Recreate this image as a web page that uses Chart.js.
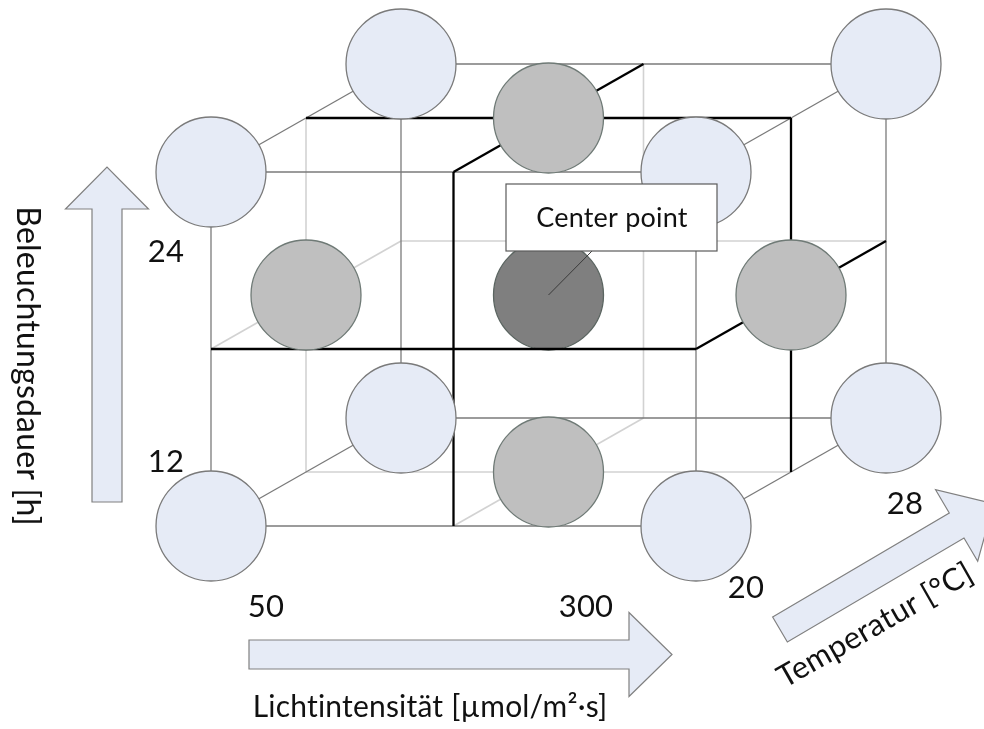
<!DOCTYPE html>
<html>
<head>
<meta charset="utf-8">
<script src="https://cdn.jsdelivr.net/npm/chart.js@4.4.1/dist/chart.umd.min.js"></script>
<style>
  html, body { margin: 0; padding: 0; background: #ffffff; }
  canvas { display: block; }
</style>
</head>
<body>
<canvas id="chart" width="984" height="729"></canvas>
<script>
// ---------------- data (factor levels and design points) ----------------
const lightLevels = [50, 300];          // Lichtintensität, µmol/m²·s
const durationLevels = [12, 24];        // Beleuchtungsdauer, h
const temperatureLevels = [20, 28];     // Temperatur, °C

const lightTickLabels = ['50', '300'];
const durationTickLabels = ['12', '24'];
const temperatureTickLabels = ['20', '28'];

const lightTitle = 'Lichtintensität [µmol/m²·s]';
const durationTitle = 'Beleuchtungsdauer [h]';
const temperatureTitle = 'Temperatur [°C]';
const centerLabel = 'Center point';

// design points: [light, duration, temperature]
const cornerPoints = [
  [50, 12, 20], [300, 12, 20], [50, 24, 20], [300, 24, 20],
  [50, 12, 28], [300, 12, 28], [50, 24, 28], [300, 24, 28]
];
const faceCenterPoints = [
  [175, 24, 24], [175, 12, 24], [50, 18, 24], [300, 18, 24]
];
const centerPoints = [
  [175, 18, 24]
];

// ---------------- layout (oblique projection onto the chart scales) ----------------
const W = 984, H = 729;
const ORIGIN_PX = { x: 211, y: 526 };   // pixel of (50, 12, 20)
const LIGHT_SPAN_PX = 485;
const DURATION_SPAN_PX = 354;
const DEPTH_PX = { x: 190, y: 108 };

const pxPerLight = LIGHT_SPAN_PX / (lightLevels[1] - lightLevels[0]);
const pxPerHour = DURATION_SPAN_PX / (durationLevels[1] - durationLevels[0]);
const tempRange = temperatureLevels[1] - temperatureLevels[0];
const depthLight = DEPTH_PX.x / pxPerLight / tempRange;
const depthHour = DEPTH_PX.y / pxPerHour / tempRange;

const xMin = lightLevels[0] - ORIGIN_PX.x / pxPerLight;
const xMax = xMin + W / pxPerLight;
const yMin = durationLevels[0] - (H - ORIGIN_PX.y) / pxPerHour;
const yMax = yMin + H / pxPerHour;

function project(p) {
  const dt = p[2] - temperatureLevels[0];
  return { x: p[0] + dt * depthLight, y: p[1] + dt * depthHour };
}

// ---------------- edges of the cube and of its three middle planes ----------------
const levels = [lightLevels, durationLevels, temperatureLevels];
const mids = levels.map(l => (l[0] + l[1]) / 2);
const visibleHigh = [true, true, false]; // right, top, front sides are "in front"

const outerEdges = [];
for (let a = 0; a < 3; a++) {
  const others = [0, 1, 2].filter(i => i !== a);
  for (const l1 of levels[others[0]]) {
    for (const l2 of levels[others[1]]) {
      const p0 = [0, 0, 0], p1 = [0, 0, 0];
      p0[a] = levels[a][0]; p1[a] = levels[a][1];
      p0[others[0]] = p1[others[0]] = l1;
      p0[others[1]] = p1[others[1]] = l2;
      outerEdges.push([p0, p1]);
    }
  }
}

const frontEdges = [], hiddenEdges = [];
for (let f = 0; f < 3; f++) {
  const others = [0, 1, 2].filter(i => i !== f);
  for (const g of others) {
    const h = others.find(i => i !== g);
    levels[h].forEach((lv, idx) => {
      const p0 = [0, 0, 0], p1 = [0, 0, 0];
      p0[f] = p1[f] = mids[f];
      p0[g] = levels[g][0]; p1[g] = levels[g][1];
      p0[h] = p1[h] = lv;
      const visible = idx === (visibleHigh[h] ? 1 : 0);
      (visible ? frontEdges : hiddenEdges).push([p0, p1]);
    });
  }
}

function edgeDatasets(edges, color, width, order) {
  return edges.map(e => ({
    type: 'scatter',
    data: e.map(project),
    showLine: true,
    borderColor: color,
    borderWidth: width,
    pointRadius: 0,
    pointHoverRadius: 0,
    order: order
  }));
}

function pointDataset(points, fill, stroke, order) {
  return {
    type: 'scatter',
    data: points.map(project),
    showLine: false,
    pointRadius: 55,
    pointHoverRadius: 55,
    pointBackgroundColor: fill,
    pointBorderColor: stroke,
    pointBorderWidth: 1.3,
    clip: false,
    order: order
  };
}

const datasets = [
  pointDataset(cornerPoints, '#e6ebf6', '#7a7a7a', 1),
  pointDataset(faceCenterPoints, '#bfbfbf', '#6f7a76', 1),
  ...edgeDatasets(frontEdges, '#000000', 2.3, 2),
  ...edgeDatasets(outerEdges, '#7a7a7a', 1.3, 3),
  ...edgeDatasets(hiddenEdges, '#d2d2d2', 1.6, 4),
  pointDataset(centerPoints, '#7f7f7f', '#5b6561', 5)
];

// ---------------- decorations: arrows, labels, center-point callout ----------------
const FONT = 'Lato, "Open Sans", sans-serif';

function drawArrow(ctx, x0, y0, len, ang, sw, hw, hl) {
  ctx.save();
  ctx.translate(x0, y0);
  ctx.rotate(ang);
  ctx.beginPath();
  ctx.moveTo(0, -sw / 2);
  ctx.lineTo(len - hl, -sw / 2);
  ctx.lineTo(len - hl, -hw / 2);
  ctx.lineTo(len, 0);
  ctx.lineTo(len - hl, hw / 2);
  ctx.lineTo(len - hl, sw / 2);
  ctx.lineTo(0, sw / 2);
  ctx.closePath();
  ctx.fillStyle = '#e6ebf6';
  ctx.fill();
  ctx.lineWidth = 1.2;
  ctx.strokeStyle = '#808080';
  ctx.stroke();
  ctx.restore();
}

function text(ctx, str, x, y, size, opts) {
  opts = opts || {};
  ctx.save();
  ctx.translate(x, y);
  if (opts.rotate) ctx.rotate(opts.rotate);
  ctx.font = size + 'px ' + FONT;
  if ('letterSpacing' in ctx) ctx.letterSpacing = '0.2px';
  ctx.fillStyle = '#111111';
  ctx.textAlign = opts.align || 'center';
  ctx.textBaseline = opts.baseline || 'alphabetic';
  ctx.fillText(str, 0, 0);
  ctx.restore();
}

const decorations = {
  id: 'decorations',
  beforeDraw(chart) {
    const ctx = chart.ctx;
    ctx.save();
    ctx.fillStyle = '#ffffff';
    ctx.fillRect(0, 0, chart.width, chart.height);
    ctx.restore();
  },
  afterDatasetsDraw(chart) {
    const ctx = chart.ctx;
    const xs = chart.scales.x, ys = chart.scales.y;

    // arrows
    drawArrow(ctx, 107, 502, 335, -Math.PI / 2, 30, 83, 42);
    drawArrow(ctx, 249, 654.5, 423, 0, 29, 84, 43);
    drawArrow(ctx, 780, 629.5, 248, -30.5 * Math.PI / 180, 29, 83, 43);

    // tick labels (factor levels)
    text(ctx, durationTickLabels[1], 166, 262, 31);
    text(ctx, durationTickLabels[0], 166, 472, 31);
    text(ctx, lightTickLabels[0], 266, 617, 31);
    text(ctx, lightTickLabels[1], 586, 617, 31);
    text(ctx, temperatureTickLabels[0], 746, 598, 31);
    text(ctx, temperatureTickLabels[1], 905, 514, 31);

    // axis titles
    text(ctx, lightTitle, 430, 717, 30);
    text(ctx, durationTitle, 27, 366, 32, { rotate: Math.PI / 2, baseline: 'middle' });
    text(ctx, temperatureTitle, 880, 634, 31, { rotate: -29.7 * Math.PI / 180 });

    // center point callout
    const cp = project(centerPoints[0]);
    const cx = xs.getPixelForValue(cp.x), cy = ys.getPixelForValue(cp.y);
    ctx.save();
    ctx.beginPath();
    ctx.moveTo(592, 251);
    ctx.lineTo(cx, cy);
    ctx.lineWidth = 1;
    ctx.strokeStyle = '#3a3a3a';
    ctx.stroke();
    ctx.fillStyle = '#ffffff';
    ctx.fillRect(506, 184, 211, 67);
    ctx.lineWidth = 1.2;
    ctx.strokeStyle = '#5a5a5a';
    ctx.strokeRect(506, 184, 211, 67);
    ctx.restore();
    text(ctx, centerLabel, 612, 227, 27);
  }
};

const chart = new Chart(document.getElementById('chart').getContext('2d'), {
  type: 'scatter',
  data: { datasets: datasets },
  options: {
    responsive: false,
    animation: false,
    devicePixelRatio: 1,
    events: [],
    layout: { padding: 0, autoPadding: false },
    plugins: { legend: { display: false }, tooltip: { enabled: false } },
    scales: {
      x: { type: 'linear', display: false, min: xMin, max: xMax },
      y: { type: 'linear', display: false, min: yMin, max: yMax }
    }
  },
  plugins: [decorations]
});
if (document.fonts && document.fonts.ready) {
  document.fonts.ready.then(() => chart.draw());
}
</script>
</body>
</html>
